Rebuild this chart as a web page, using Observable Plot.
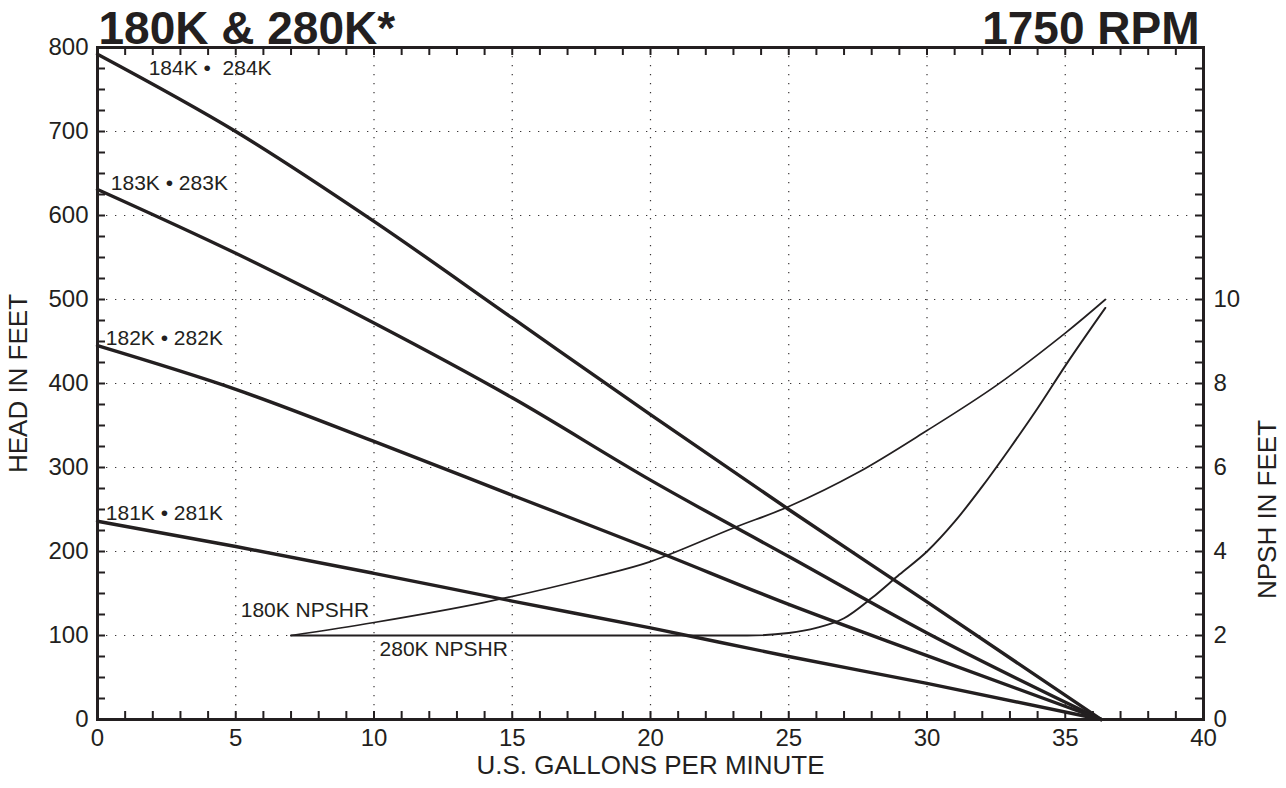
<!DOCTYPE html>
<html>
<head>
<meta charset="utf-8">
<script src="https://cdn.jsdelivr.net/npm/d3@7"></script>
<script src="https://cdn.jsdelivr.net/npm/@observablehq/plot@0.6"></script>
<style>
  html, body { margin: 0; padding: 0; background: #fff; }
  #chart svg { display: block; }
</style>
</head>
<body>
<div id="chart"></div>
<script>
// ---- data ----
const titleLeft = "180K & 280K*";
const titleRight = "1750 RPM";
const xLabel = "U.S. GALLONS PER MINUTE";
const yLabel = "HEAD IN FEET";
const y2Label = "NPSH IN FEET";

const xTickLabels = [0, 5, 10, 15, 20, 25, 30, 35, 40];
const yTickLabels = [0, 100, 200, 300, 400, 500, 600, 700, 800];
const npshTickLabels = [0, 2, 4, 6, 8, 10];
const npshToHead = 50; // right axis: 10 ft NPSH sits at 500 ft head
const xMinorTicks = [1,2,3,4,5,6,7,8,9,10,11,12,13,14,15,16,17,18,19,20,21,22,23,24,25,26,27,28,29,30,31,32,33,34,35,36,37,38,39];
const yMinorTicks = [25,50,75,100,125,150,175,200,225,250,275,300,325,350,375,400,425,450,475,500,525,550,575,600,625,650,675,700,725,750,775];

// head curves (gpm -> feet)
const gpm = [0, 5, 10, 15, 20, 25, 30, 36.3];
const head184 = [792, 700, 593, 478, 363, 250, 140, 0];
const head183 = [631, 555, 472, 383, 285, 194, 103, 0];
const head182 = [445, 393, 331, 267, 203, 137, 76, 0];
const head181 = [236, 206, 174, 141, 109, 75, 43, 0];
const headSeries = ["184K", "183K", "182K", "181K"];

// NPSHR curves (gpm -> NPSH feet)
const npsh180Gpm = [7, 10, 14, 18, 20, 23, 25, 27.5, 30, 32.5, 35, 36.45];
const npsh180 = [2.0, 2.31, 2.79, 3.40, 3.76, 4.56, 5.07, 5.88, 6.88, 7.95, 9.2, 10.0];
const npsh280Gpm = [7, 23.5, 25, 26, 27, 28, 29, 30, 31, 32, 33, 34, 35, 36.45];
const npsh280 = [2.0, 2.0, 2.06, 2.18, 2.41, 2.89, 3.45, 4.0, 4.71, 5.55, 6.46, 7.41, 8.42, 9.8];

// curve labels (text, gpm, head)
const curveLabelText = ["184K •\u00a0 284K", "183K • 283K", "182K • 282K", "181K • 281K", "180K NPSHR", "280K NPSHR"];
const curveLabelGpm = [1.85, 0.48, 0.3, 0.3, 5.18, 10.2];
const curveLabelHead = [775, 638, 454, 246, 130, 84];

// ---- build tables ----
const headValues = [head184, head183, head182, head181];
const headData = headSeries.flatMap((s, i) => gpm.map((g, j) => ({series: s, gpm: g, head: headValues[i][j]})));
const npsh180Data = npsh180Gpm.map((g, j) => ({gpm: g, npsh: npsh180[j]}));
const npsh280Data = npsh280Gpm.map((g, j) => ({gpm: g, npsh: npsh280[j]}));
const labels = curveLabelText.map((t, i) => ({text: t, gpm: curveLabelGpm[i], head: curveLabelHead[i]}));

const ink = "#231f20";

// layout (pixels)
const W = 1286, H = 788, mL = 97, mR = 83, mT = 47, mB = 69;
const frameW = W - mL - mR, frameH = H - mT - mB, tickLen = 8;
const tickStyle = {stroke: ink, strokeWidth: 2};
const grid = {stroke: ink, strokeOpacity: 0.9, strokeWidth: 1.2, strokeDasharray: "1.3,7.7"};

const chart = Plot.plot({
  width: W,
  height: H,
  marginLeft: mL,
  marginRight: mR,
  marginTop: mT,
  marginBottom: mB,
  style: {fontFamily: "'Liberation Sans', Arial, Helvetica, sans-serif", color: ink, background: "#fff"},
  x: {domain: [0, 40], axis: null},
  y: {domain: [0, 800], axis: null},
  marks: [
    Plot.gridX({ticks: [5, 10, 15, 20, 25, 30, 35], ...grid}),
    Plot.gridY({ticks: [100, 200, 300, 400, 500, 600, 700], ...grid}),

    // tick labels
    Plot.axisX({anchor: "bottom", ticks: xTickLabels, tickSize: 0, tickPadding: 9, fontSize: 24, label: null}),
    Plot.axisY({anchor: "left", ticks: yTickLabels, tickSize: 0, tickPadding: 9, fontSize: 24, label: null}),
    Plot.axisY({anchor: "right", ticks: npshTickLabels.map(v => v * npshToHead), tickFormat: d => d / npshToHead, tickSize: 0, tickPadding: 10, fontSize: 24, label: null}),

    // inward minor ticks on all four sides (rules inset to tick length)
    Plot.ruleX(xMinorTicks, {x: d => d, insetTop: frameH - tickLen, ...tickStyle}),
    Plot.ruleX(xMinorTicks, {x: d => d, insetBottom: frameH - tickLen, ...tickStyle}),
    Plot.ruleY(yMinorTicks, {y: d => d, insetRight: frameW - tickLen, ...tickStyle}),
    Plot.ruleY(yMinorTicks, {y: d => d, insetLeft: frameW - tickLen, ...tickStyle}),

    // curves
    Plot.line(npsh180Data, {x: "gpm", y: d => d.npsh * npshToHead, curve: "catmull-rom", stroke: ink, strokeWidth: 1.7}),
    Plot.line(npsh280Data, {x: "gpm", y: d => d.npsh * npshToHead, curve: "monotone-x", stroke: ink, strokeWidth: 1.9}),
    Plot.line(headData, {x: "gpm", y: "head", z: "series", curve: "monotone-x", stroke: ink, strokeWidth: 3.4}),

    Plot.frame({stroke: ink, strokeWidth: 3}),

    // curve labels
    Plot.text(labels, {x: "gpm", y: "head", text: "text", textAnchor: "start", fontSize: 21, fill: ink}),

    // axis titles
    Plot.text([xLabel], {frameAnchor: "bottom", textAnchor: "middle", dy: 54, fontSize: 26, fill: ink}),
    Plot.text([yLabel], {frameAnchor: "left", textAnchor: "middle", dx: -79, rotate: -90, fontSize: 26, fill: ink}),
    Plot.text([y2Label], {frameAnchor: "right", textAnchor: "middle", y: 250, dx: 64, rotate: -90, fontSize: 26, fill: ink}),

    // titles
    Plot.text([titleLeft], {frameAnchor: "top-left", textAnchor: "start", lineAnchor: "bottom", dx: 1, dy: -4, fontSize: 46, fontWeight: "bold", fill: ink}),
    Plot.text([titleRight], {frameAnchor: "top-right", textAnchor: "end", lineAnchor: "bottom", dx: -4, dy: -4, fontSize: 46, fontWeight: "bold", fill: ink})
  ]
});
document.getElementById("chart").append(chart);
</script>
</body>
</html>
